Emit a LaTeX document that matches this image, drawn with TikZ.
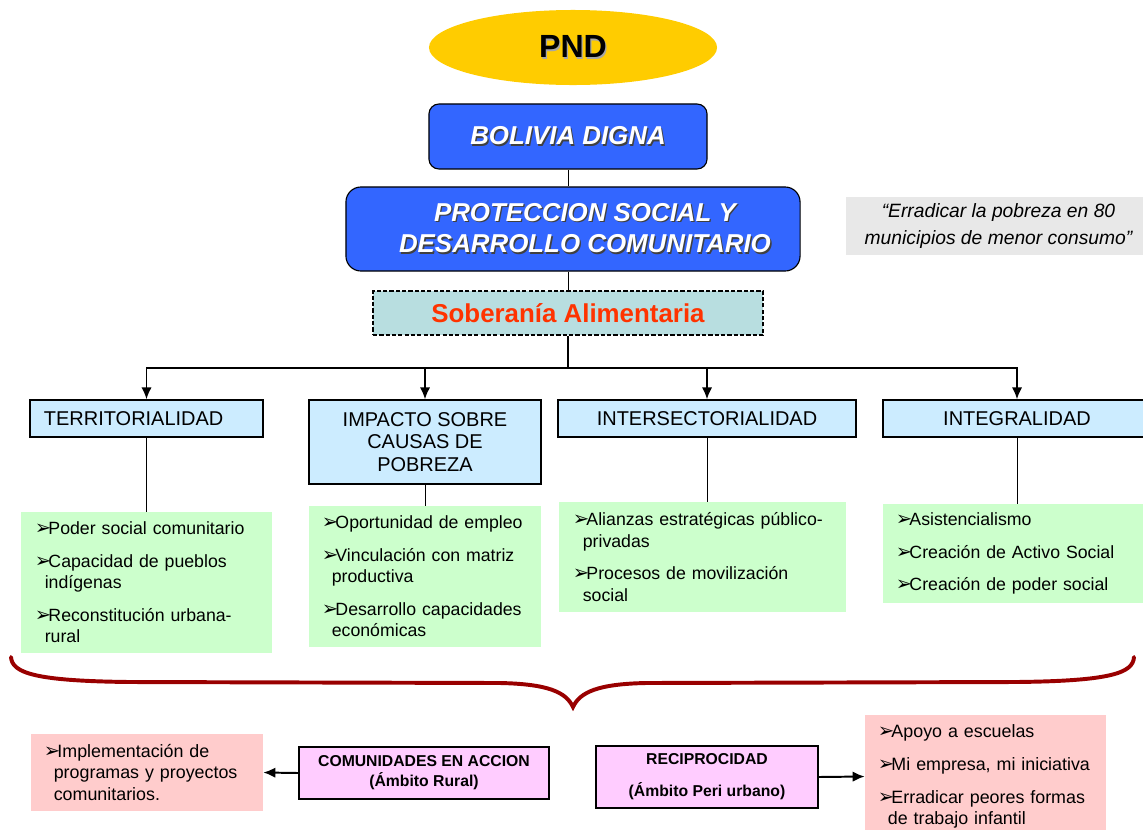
\documentclass[tikz,border=0pt]{standalone}
\usepackage{fontspec}
\setmainfont{Liberation Sans}
\newfontfamily\arrowfont{DejaVu Sans}
\usetikzlibrary{arrows.meta,shapes}

\definecolor{pndyellow}{HTML}{FFCC00}
\definecolor{titleblue}{HTML}{3366FF}
\definecolor{soberfill}{HTML}{B8DEE0}
\definecolor{soberred}{HTML}{FF3300}
\definecolor{catblue}{HTML}{CCECFF}
\definecolor{greenfill}{HTML}{CCFFCC}
\definecolor{pinkfill}{HTML}{FFCCCC}
\definecolor{magfill}{HTML}{FFCCFF}
\definecolor{quotegray}{HTML}{E8E8E8}
\definecolor{bracered}{HTML}{990000}

\newcommand\fs[2]{\fontsize{#1}{#2}\selectfont}
\newcommand\shadowed[2][black!75]{\makebox[0pt][l]{\hspace{0.9pt}\raisebox{-0.9pt}{\color{#1}#2}}#2}
\newcommand\itm{\makebox[9.6pt][l]{\arrowfont\fs{14}{14}➢}}
\newcommand\indt{\hspace*{7pt}}

\begin{document}
\begin{tikzpicture}[>={Latex[length=3mm,width=2.6mm]}, x=0.025cm, y=-0.025cm]
      \tikzset{
	  ellip/.style={ellipse, fill=pndyellow, minimum width=7.2cm, minimum height=1.875cm, inner sep=0pt, font=\fs{22.8}{26}\bfseries},
	  titlebox/.style={rectangle, draw=black, line width=0.8pt, fill=titleblue, text=white, align=center, inner sep=0pt, font=\fs{18.4}{22.3}\bfseries\itshape},
	  dashbox/.style={rectangle, draw=black, line width=1pt, dash pattern=on 3pt off 1.5pt, fill=soberfill, text=soberred, minimum width=9.75cm, minimum height=1.1cm, inner sep=0pt, font=\fs{18.4}{22}\bfseries},
	  catbox/.style={rectangle, draw=black, line width=0.9pt, fill=catblue, minimum height=0.925cm, inner sep=0pt, align=center, font=\fs{14.2}{16}},
	  itembox/.style={rectangle, fill=greenfill, inner xsep=0.35cm, inner ysep=0pt, align=left, font=\fs{12.6}{15.2}},
	  pinkbox/.style={rectangle, fill=pinkfill, inner xsep=0.325cm, inner ysep=0pt, align=left, font=\fs{12.7}{15.2}},
	  actbox/.style={rectangle, draw=black, line width=0.9pt, fill=magfill, inner sep=0pt, align=center, font=\fs{11.2}{14.2}\bfseries},
	  quotebox/.style={rectangle, fill=quotegray, minimum width=7.625cm, minimum height=1.45cm, inner sep=0pt, align=center, font=\fs{13.7}{19}\itshape},
      }
      \clip (0,0) rectangle (1143,829);

      \node (pnd) at (573,47.5) [ellip] {\shadowed[black!35]{PND}};
      \node (bd) at (568,136.5) [titlebox, rounded corners=0.25cm, minimum width=6.95cm, minimum height=1.625cm] {\shadowed{BOLIVIA DIGNA}};
      \node (ps) at (573,229) [titlebox, rounded corners=0.375cm, minimum width=11.35cm, minimum height=2.1cm] {\hspace*{17pt}\shadowed{PROTECCION SOCIAL Y}\\\hspace*{17pt}\shadowed{DESARROLLO COMUNITARIO}};
      \node (sa) at (568,313) [dashbox] {Soberanía Alimentaria};
      \node (q) at (998.5,226) [quotebox] {“Erradicar la pobreza en 80\\municipios de menor consumo”};

      \draw [line width=0.7pt] (bd.south) -- (bd.south |- ps.north);
      \draw [line width=0.7pt] (sa.north |- ps.south) -- (sa.north);

      \node (terr) at (146.5,418.5) [catbox, minimum width=5.825cm, text width=5.125cm, inner xsep=0.35cm, align=left] {TERRITORIALIDAD};
      \node (imp) at (425,442) [catbox, minimum width=5.8cm, minimum height=2.1cm] {IMPACTO SOBRE\\CAUSAS DE\\POBREZA};
      \node (inter) at (707,418.5) [catbox, minimum width=7.45cm] {INTERSECTORIALIDAD};
      \node (integ) at (1017,418.5) [catbox, minimum width=6.7cm] {INTEGRALIDAD};

      \coordinate (hub) at (568,368);
      \draw [line width=2pt] (sa.south) -- (hub);
      \foreach \c in {terr,imp,inter,integ}
        \draw [->, line width=1.4pt] (hub) -| (\c.north);

      \node (g1) at (146.5,582.5) [itembox, text width=5.575cm, minimum height=3.525cm] {\itm Poder social comunitario\\[8pt]\itm Capacidad de pueblos\\\indt indígenas\\[8pt]\itm Reconstitución urbana-\\\indt rural};
      \node (g2) at (425,576.5) [itembox, inner xsep=0.325cm, text width=5.15cm, minimum height=3.525cm] {\itm Oportunidad de empleo\\[8pt]\itm Vinculación con matriz\\\indt productiva\\[8pt]\itm Desarrollo capacidades\\\indt económicas};
      \node (g3) at (702.5,557) [itembox, text width=6.475cm, minimum height=2.75cm] {\itm Alianzas estratégicas público-\\\indt privadas\\[8pt]\itm Procesos de movilización\\\indt social};
      \node (g4) at (1017,553.5) [itembox, inner xsep=0.325cm, text width=6.05cm, minimum height=2.475cm] {\itm Asistencialismo\\[8pt]\itm Creación de Activo Social\\[8pt]\itm Creación de poder social};

      \draw [line width=0.7pt] (terr.south) -- (g1.north);
      \draw [line width=0.7pt] (imp.south) -- (g2.north);
      \draw [line width=0.7pt] (inter.south) -- (inter.south |- g3.north);
      \draw [line width=0.7pt] (integ.south) -- (g4.north);

      \draw [bracered, line width=2.8pt, line cap=round] (11,657) .. controls (12,673) and (35,681) .. (130,682) -- (500,683) .. controls (548,684) and (566,692) .. (573,707) .. controls (580,692) and (598,684) .. (646,683) -- (1016,682) .. controls (1111,681) and (1133,673) .. (1134,657);

      \node (pl) at (147,772.5) [pinkbox, text width=5.15cm, minimum height=1.925cm] {\itm Implementación de\\\indt programas y proyectos\\\indt comunitarios.};
      \node (ca) at (424,773) [actbox, minimum width=6.25cm, minimum height=1.3cm] {COMUNIDADES EN ACCION\\(Ámbito Rural)};
      \node (rc) at (707,777) [actbox, minimum width=5.55cm, minimum height=1.55cm] {RECIPROCIDAD\\[8.5pt](Ámbito Peri urbano)};
      \node (pr) at (985.5,776.5) [pinkbox, text width=5.375cm, minimum height=3.075cm] {\itm Apoyo a escuelas\\[8.5pt]\itm Mi empresa, mi iniciativa\\[8pt]\itm Erradicar peores formas\\\indt de trabajo infantil};

      \draw [->, line width=1.4pt] (ca.west) -- (pl.east);
      \draw [->, line width=1.4pt] (rc.east) -- (pr.west);
    \end{tikzpicture}
\end{document}
